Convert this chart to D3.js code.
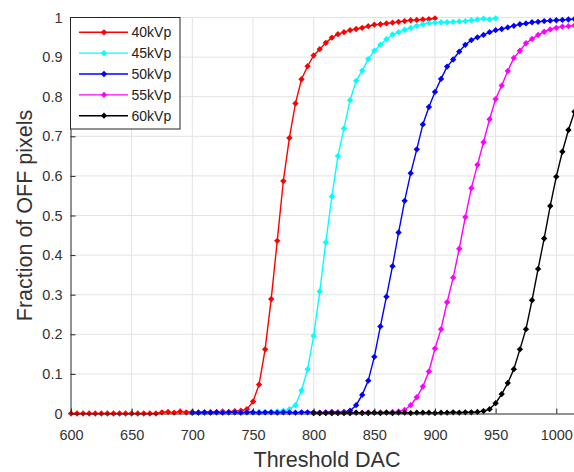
<!DOCTYPE html>
<html>
<head>
<meta charset="utf-8">
<script src="https://cdn.jsdelivr.net/npm/d3@7"></script>
<style>
  body { margin: 0; background: #fff; }
  svg { display: block; font-family: "Liberation Sans", Arial, Helvetica, sans-serif; }
</style>
</head>
<body>
<div id="chart"></div>
<script>
// threshold DAC sampled every 5 counts, each scan starts at its own value
var dacStep = 5;
var seriesNames = ["40kVp", "45kVp", "50kVp", "55kVp", "60kVp"];
var seriesColors = ["#ff0000", "#00ffff", "#0000ff", "#ff00ff", "#000000"];
var seriesStart = [600, 700, 700, 800, 800];

var kvp40 = [0, 0, 0, 0, 0, 0, 0, 0, 0, 0, 0, 0, 0, 0, 0,
  0.003, 0.004, 0.002, 0.005, 0.003, 0.004, 0.003, 0.003, 0.004, 0.004, 0.005, 0.004, 0.006, 0.007, 0.011,
  0.030, 0.073, 0.162, 0.289, 0.436, 0.587, 0.696, 0.783, 0.844, 0.877, 0.904, 0.920, 0.936, 0.949, 0.958,
  0.963, 0.968, 0.971, 0.974, 0.978, 0.982, 0.983, 0.985, 0.987, 0.989, 0.991, 0.993, 0.994, 0.995, 0.996, 0.998];

var kvp45 = [0.001, 0.002, 0.001, 0.002, 0.002, 0.003, 0.002, 0.003, 0.002, 0.003, 0.003, 0.004, 0.003, 0.004,
  0.005, 0.007, 0.011, 0.021, 0.058, 0.112, 0.196, 0.308, 0.432, 0.548, 0.650, 0.720, 0.791, 0.840, 0.866,
  0.895, 0.916, 0.931, 0.945, 0.957, 0.963, 0.969, 0.974, 0.979, 0.983, 0.986, 0.987, 0.988, 0.988, 0.989,
  0.990, 0.991, 0.993, 0.995, 0.997, 0.995, 0.998];

var kvp50 = [0.002, 0.002, 0.003, 0.002, 0.003, 0.002, 0.003, 0.003, 0.002, 0.003, 0.003, 0.002, 0.003,
  0.003, 0.002, 0.003, 0.003, 0.002, 0.003, 0.003, 0.003, 0.002, 0.003, 0.004, 0.003, 0.004,
  0.007, 0.021, 0.047, 0.083, 0.143, 0.220, 0.295, 0.372, 0.457, 0.537, 0.607, 0.667, 0.730, 0.774, 0.812,
  0.845, 0.876, 0.894, 0.914, 0.931, 0.943, 0.950, 0.956, 0.963, 0.968, 0.971, 0.975, 0.979, 0.983, 0.985,
  0.988, 0.989, 0.991, 0.992, 0.993, 0.994, 0.995, 0.996];

var kvp55 = [0.001, 0.001, 0.002, 0.001, 0.002, 0.002, 0.001, 0.002, 0.002, 0.003, 0.002, 0.003, 0.003, 0.004, 0.005,
  0.009, 0.021, 0.041, 0.068, 0.106, 0.164, 0.213, 0.281, 0.343, 0.416, 0.496, 0.569, 0.628, 0.685, 0.743,
  0.794, 0.828, 0.865, 0.898, 0.916, 0.935, 0.946, 0.956, 0.964, 0.970, 0.974, 0.977, 0.978, 0.980];

var kvp60 = [0.001, 0.001, 0.001, 0.001, 0.001, 0.001, 0.001, 0.002, 0.001, 0.001, 0.002, 0.001, 0.002, 0.001,
  0.002, 0.002, 0.001, 0.002, 0.002, 0.002, 0.001, 0.002, 0.002, 0.003, 0.002, 0.003, 0.003,
  0.004, 0.006, 0.011, 0.026, 0.049, 0.077, 0.112, 0.162, 0.213, 0.286, 0.365, 0.442, 0.524, 0.598, 0.661, 0.716, 0.762];

var seriesValues = [kvp40, kvp45, kvp50, kvp55, kvp60];

var xTicks = [600, 650, 700, 750, 800, 850, 900, 950, 1000];
var yTicks = [0, 0.1, 0.2, 0.3, 0.4, 0.5, 0.6, 0.7, 0.8, 0.9, 1];

// svg container
var svgWidth = 574;
var svgHeight = 472;
var plot = { left: 71, right: 574.5, top: 17.5, bottom: 413.5 };

var svg = d3.select("#chart").append("svg")
  .attr("width", svgWidth)
  .attr("height", svgHeight);

var xScale = d3.scaleLinear().domain([600, 1015]).range([plot.left, plot.right]);
var yScale = d3.scaleLinear().domain([0, 1]).range([plot.bottom, plot.top]);

// grid
svg.append("g").selectAll("line.vgrid")
  .data(xTicks.slice(1))
  .enter().append("line")
  .attr("x1", d => xScale(d)).attr("x2", d => xScale(d))
  .attr("y1", plot.top).attr("y2", plot.bottom)
  .attr("stroke", "#e3e3e3").attr("stroke-width", 1);

svg.append("g").selectAll("line.hgrid")
  .data(yTicks.slice(1))
  .enter().append("line")
  .attr("x1", plot.left).attr("x2", svgWidth)
  .attr("y1", d => yScale(d)).attr("y2", d => yScale(d))
  .attr("stroke", "#e3e3e3").attr("stroke-width", 1);

// curves
var line = d3.line()
  .x(d => xScale(d.x))
  .y(d => yScale(d.y));

var marker = d3.symbol().type(d3.symbolSquare).size(20);

seriesValues.forEach(function(vals, s) {
  var pts = vals.map((v, i) => ({ x: seriesStart[s] + i * dacStep, y: v }));
  var g = svg.append("g");
  g.append("path")
    .datum(pts)
    .attr("d", line)
    .attr("fill", "none")
    .attr("stroke", seriesColors[s])
    .attr("stroke-width", 1.4);
  g.selectAll("path.mk")
    .data(pts)
    .enter().append("path")
    .attr("class", "mk")
    .attr("d", marker)
    .attr("transform", d => `translate(${xScale(d.x)},${yScale(d.y)}) rotate(45)`)
    .attr("fill", seriesColors[s]);
});

// axes
var axisColor = "#262626";

var xAxis = d3.axisBottom(xScale).tickValues(xTicks).tickFormat(d3.format("d"))
  .tickSizeInner(-5).tickSizeOuter(0).tickPadding(16);
var gx = svg.append("g")
  .attr("transform", `translate(0, ${plot.bottom})`)
  .call(xAxis);
gx.select(".domain").attr("stroke", axisColor);
gx.selectAll(".tick line").attr("stroke", axisColor);
gx.selectAll("text").attr("fill", "#333").attr("font-size", 14.5).attr("font-family", null);

var yAxis = d3.axisLeft(yScale).tickValues(yTicks).tickFormat(d3.format(""))
  .tickSizeInner(-5).tickSizeOuter(0).tickPadding(8);
var gy = svg.append("g")
  .attr("transform", `translate(${plot.left - 0.5}, 0)`)
  .call(yAxis);
gy.select(".domain").attr("stroke", axisColor);
gy.selectAll(".tick line").attr("stroke", axisColor);
gy.selectAll("text").attr("fill", "#333").attr("font-size", 14.5).attr("font-family", null);

// axis labels
svg.append("text")
  .attr("x", 327)
  .attr("y", 467)
  .attr("text-anchor", "middle")
  .attr("font-size", 21.5)
  .attr("fill", "#333")
  .text("Threshold DAC");

svg.append("text")
  .attr("transform", `translate(32, ${(plot.top + plot.bottom) / 2}) rotate(-90)`)
  .attr("text-anchor", "middle")
  .attr("font-size", 21.5)
  .attr("fill", "#333")
  .text("Fraction of OFF pixels");

// legend
var legend = svg.append("g");
legend.append("rect")
  .attr("x", 70.5).attr("y", 17.5)
  .attr("width", 109.5).attr("height", 111.5)
  .attr("fill", "#fff")
  .attr("stroke", axisColor)
  .attr("stroke-width", 1);

var legendRow = d3.scaleLinear().domain([0, 4]).range([32.3, 115.7]);

seriesNames.forEach(function(name, s) {
  var yy = legendRow(s);
  legend.append("line")
    .attr("x1", 79).attr("x2", 128)
    .attr("y1", yy).attr("y2", yy)
    .attr("stroke", seriesColors[s])
    .attr("stroke-width", 1.4);
  legend.append("path")
    .attr("d", marker)
    .attr("transform", `translate(104,${yy}) rotate(45)`)
    .attr("fill", seriesColors[s]);
  legend.append("text")
    .attr("x", 131.5)
    .attr("y", yy)
    .attr("dy", "0.35em")
    .attr("font-size", 14)
    .attr("fill", "#222")
    .text(name);
});
</script>
</body>
</html>
